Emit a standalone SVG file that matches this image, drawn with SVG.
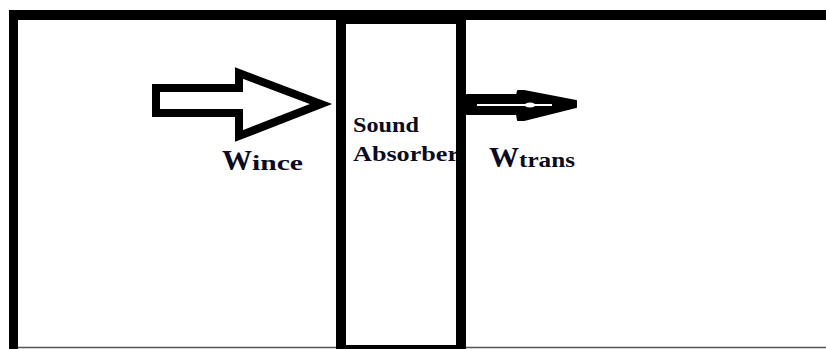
<svg xmlns="http://www.w3.org/2000/svg" width="826" height="349" viewBox="0 0 826 349">
<style>
.lbl{font-family:"Liberation Serif","Times New Roman",serif;font-weight:bold;fill:#0b0b22}
.frame{fill:#000}
</style>
<rect x="0" y="0" width="826" height="349" fill="#fff"/>
<g id="frame">
<rect class="frame" x="9" y="10" width="817" height="10"/>
<rect class="frame" x="9" y="10" width="9" height="339"/>
<line x1="18" y1="347.5" x2="826" y2="347.5" stroke="#555" stroke-width="1.5"/>
</g>
<g id="absorber">
<text class="lbl" x="353" y="132" font-size="22" textLength="66" lengthAdjust="spacingAndGlyphs">Sound</text>
<text class="lbl" x="353" y="161" font-size="22" textLength="106" lengthAdjust="spacingAndGlyphs">Absorber</text>
<rect x="341" y="19" width="120" height="331" fill="none" stroke="#000" stroke-width="10"/>
</g>
<g id="connectors">
<polygon id="incident-arrow" points="156,88 239,88 239,73 321,104 239,136 239,113 156,113" fill="#fff" stroke="#000" stroke-width="8" stroke-linejoin="miter" stroke-miterlimit="6"/>
<g id="transmitted-arrow">
<polygon points="467,95 517,95 518,91 524,91 576,101 576,107 524,120 518,120 517,114 467,114" fill="#000" stroke="#000" stroke-width="2" stroke-linejoin="round"/>
<line x1="477" y1="105" x2="552" y2="105" stroke="#fff" stroke-width="2"/>
<ellipse cx="530" cy="105" rx="5" ry="2.5" fill="#fff"/>
</g>
</g>
<g id="label-wince">
<text class="lbl" x="222" y="170"><tspan font-size="30">W</tspan><tspan font-size="21" textLength="51" lengthAdjust="spacingAndGlyphs">ince</tspan></text>
</g>
<g id="label-wtrans">
<text class="lbl" x="489" y="167"><tspan font-size="30">W</tspan><tspan font-size="21" textLength="56" lengthAdjust="spacingAndGlyphs">trans</tspan></text>
</g>
</svg>
